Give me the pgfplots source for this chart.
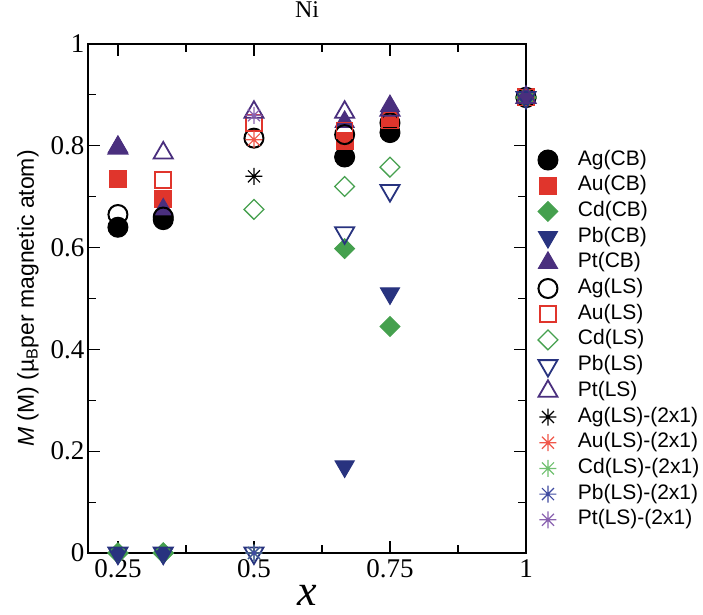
\documentclass[border=0pt]{standalone}
\usepackage{fontspec}
\setmainfont{Liberation Serif}
\setsansfont{Liberation Sans}
\usepackage{pgfplots}
\pgfplotsset{compat=1.18}

% eight-spoke star used for the (2x1) cells
\pgfdeclareplotmark{star8}{%
  \pgfpathmoveto{\pgfqpoint{-\pgfplotmarksize}{0pt}}\pgfpathlineto{\pgfqpoint{\pgfplotmarksize}{0pt}}%
  \pgfpathmoveto{\pgfqpoint{0pt}{-\pgfplotmarksize}}\pgfpathlineto{\pgfqpoint{0pt}{\pgfplotmarksize}}%
  \pgfpathmoveto{\pgfqpoint{-0.7071\pgfplotmarksize}{-0.7071\pgfplotmarksize}}\pgfpathlineto{\pgfqpoint{0.7071\pgfplotmarksize}{0.7071\pgfplotmarksize}}%
  \pgfpathmoveto{\pgfqpoint{-0.7071\pgfplotmarksize}{0.7071\pgfplotmarksize}}\pgfpathlineto{\pgfqpoint{0.7071\pgfplotmarksize}{-0.7071\pgfplotmarksize}}%
  \pgfusepathqstroke}

\definecolor{cAg}{HTML}{000000}
\definecolor{cAu}{HTML}{E0352C}
\definecolor{cCd}{HTML}{45A04E}
\definecolor{cPb}{HTML}{28337F}
\definecolor{cPt}{HTML}{4A2F7E}
\definecolor{sAu}{HTML}{F0574A}
\definecolor{sCd}{HTML}{70C070}
\definecolor{sPb}{HTML}{3F4AA0}
\definecolor{sPt}{HTML}{8A62B0}

\begin{document}
\begin{tikzpicture}
\begin{axis}[
  scale only axis,
  width=438pt, height=509pt,
  xmin=0.195, xmax=1, ymin=0, ymax=1,
  clip=false,
  axis line style={line width=1.5pt},
  xtick={0.25,0.5,0.75,1},
  xticklabels={0.25,0.5,0.75,1},
  minor x tick num=1,
  ytick={0,0.2,0.4,0.6,0.8,1},
  yticklabels={0,0.2,0.4,0.6,0.8,1},
  minor y tick num=1,
  tick align=inside,
  major tick length=12pt, minor tick length=8pt,
  every tick/.style={line width=1.2pt, black},
  tick label style={font=\fontsize{27}{27}\selectfont},
  xticklabel style={yshift=-3pt},
  title={Ni},
  title style={at={(axis description cs:0.5,1.055)}, anchor=center, font=\fontsize{24}{24}\selectfont},
  xlabel={\textit{x}},
  xlabel style={at={(axis description cs:0.5,-0.083)}, anchor=center, font=\fontsize{44}{44}\selectfont},
  ylabel={\textit{M} (M) (µ\textsubscript{B}per magnetic atom)},
  ylabel style={at={(axis description cs:-0.137,0.5)}, anchor=center, rotate=0, font=\sffamily\fontsize{23}{23}\selectfont},
  legend style={at={(axis description cs:1.02,0.80)}, anchor=north west, draw=none, fill=none,
    font=\sffamily\fontsize{21}{21}\selectfont, row sep=1.7pt,
    nodes={inner sep=2pt, text height=15pt, text depth=5pt},
    /tikz/every odd column/.append style={column sep=18pt}},
  legend cell align=left,
]
% ---- CB series ----
\addplot[only marks, mark=*, mark size=10pt, draw=cAg, fill=cAg, line width=1pt]
  coordinates {(0.25,0.640)(0.3333,0.655)(0.6667,0.778)(0.75,0.826)(1,0.895)};
\addlegendentry{Ag(CB)}
\addplot[only marks, mark=square*, mark size=8.5pt, draw=cAu, fill=cAu, line width=1pt]
  coordinates {(0.25,0.735)(0.3333,0.695)(0.6667,0.810)(0.75,0.855)(1,0.895)};
\addlegendentry{Au(CB)}
\addplot[only marks, mark=square*, mark size=7pt, mark options={rotate=45}, draw=cCd, fill=cCd, line width=1pt]
  coordinates {(0.25,0)(0.3333,0)(0.6667,0.598)(0.75,0.445)(1,0.895)};
\addlegendentry{Cd(CB)}
\addplot[only marks, mark=triangle*, mark size=11pt, mark options={rotate=180}, draw=cPb, fill=cPb, line width=1pt]
  coordinates {(0.25,0)(0.3333,0)(0.6667,0.170)(0.75,0.510)(1,0.895)};
\addlegendentry{Pb(CB)}
\addplot[only marks, mark=triangle*, mark size=11pt, draw=cPt, fill=cPt, line width=1pt]
  coordinates {(0.25,0.798)(0.3333,0.675)(0.6667,0.847)(0.75,0.878)(1,0.895)};
\addlegendentry{Pt(CB)}
% ---- LS series ----
\addplot[only marks, mark=o, mark size=9.5pt, draw=cAg, line width=2pt]
  coordinates {(0.25,0.665)(0.3333,0.660)(0.5,0.815)(0.6667,0.822)(0.75,0.845)(1,0.895)};
\addlegendentry{Ag(LS)}
\addplot[only marks, mark=square, mark size=8pt, draw=cAu, line width=1.6pt]
  coordinates {(0.25,0.735)(0.3333,0.733)(0.5,0.845)(0.6667,0.830)(0.75,0.850)(1,0.895)};
\addlegendentry{Au(LS)}
\addplot[only marks, mark=square, mark size=7pt, mark options={rotate=45}, draw=cCd, line width=1.3pt]
  coordinates {(0.25,0)(0.3333,0)(0.5,0.675)(0.6667,0.720)(0.75,0.758)(1,0.895)};
\addlegendentry{Cd(LS)}
\addplot[only marks, mark=triangle, mark size=11pt, mark options={rotate=180}, draw=cPb, line width=1.8pt]
  coordinates {(0.25,0)(0.3333,0)(0.5,0)(0.6667,0.629)(0.75,0.712)(1,0.895)};
\addlegendentry{Pb(LS)}
\addplot[only marks, mark=triangle, mark size=11pt, draw=cPt, line width=1.8pt]
  coordinates {(0.25,0.795)(0.3333,0.786)(0.5,0.866)(0.6667,0.866)(0.75,0.870)(1,0.895)};
\addlegendentry{Pt(LS)}
% ---- LS (2x1) cells ----
\addplot[only marks, mark=star8, mark size=8.5pt, draw=cAg, line width=1.2pt]
  coordinates {(0.5,0.740)};
\addlegendentry{Ag(LS)-(2x1)}
\addplot[only marks, mark=star8, mark size=8.5pt, draw=sAu, line width=1.2pt]
  coordinates {(0.5,0.812)};
\addlegendentry{Au(LS)-(2x1)}
\addplot[only marks, mark=star8, mark size=8.5pt, draw=sCd, line width=1.2pt]
  coordinates {(0.5,0)};
\addlegendentry{Cd(LS)-(2x1)}
\addplot[only marks, mark=star8, mark size=8.5pt, draw=sPb, line width=1.2pt]
  coordinates {(0.5,0)};
\addlegendentry{Pb(LS)-(2x1)}
\addplot[only marks, mark=star8, mark size=8.5pt, draw=sPt, line width=1.2pt]
  coordinates {(0.5,0.860)};
\addlegendentry{Pt(LS)-(2x1)}
\end{axis}
\pgfresetboundingbox
\path (-88pt,-61pt) rectangle (615pt,553pt);
\end{tikzpicture}
\end{document}
